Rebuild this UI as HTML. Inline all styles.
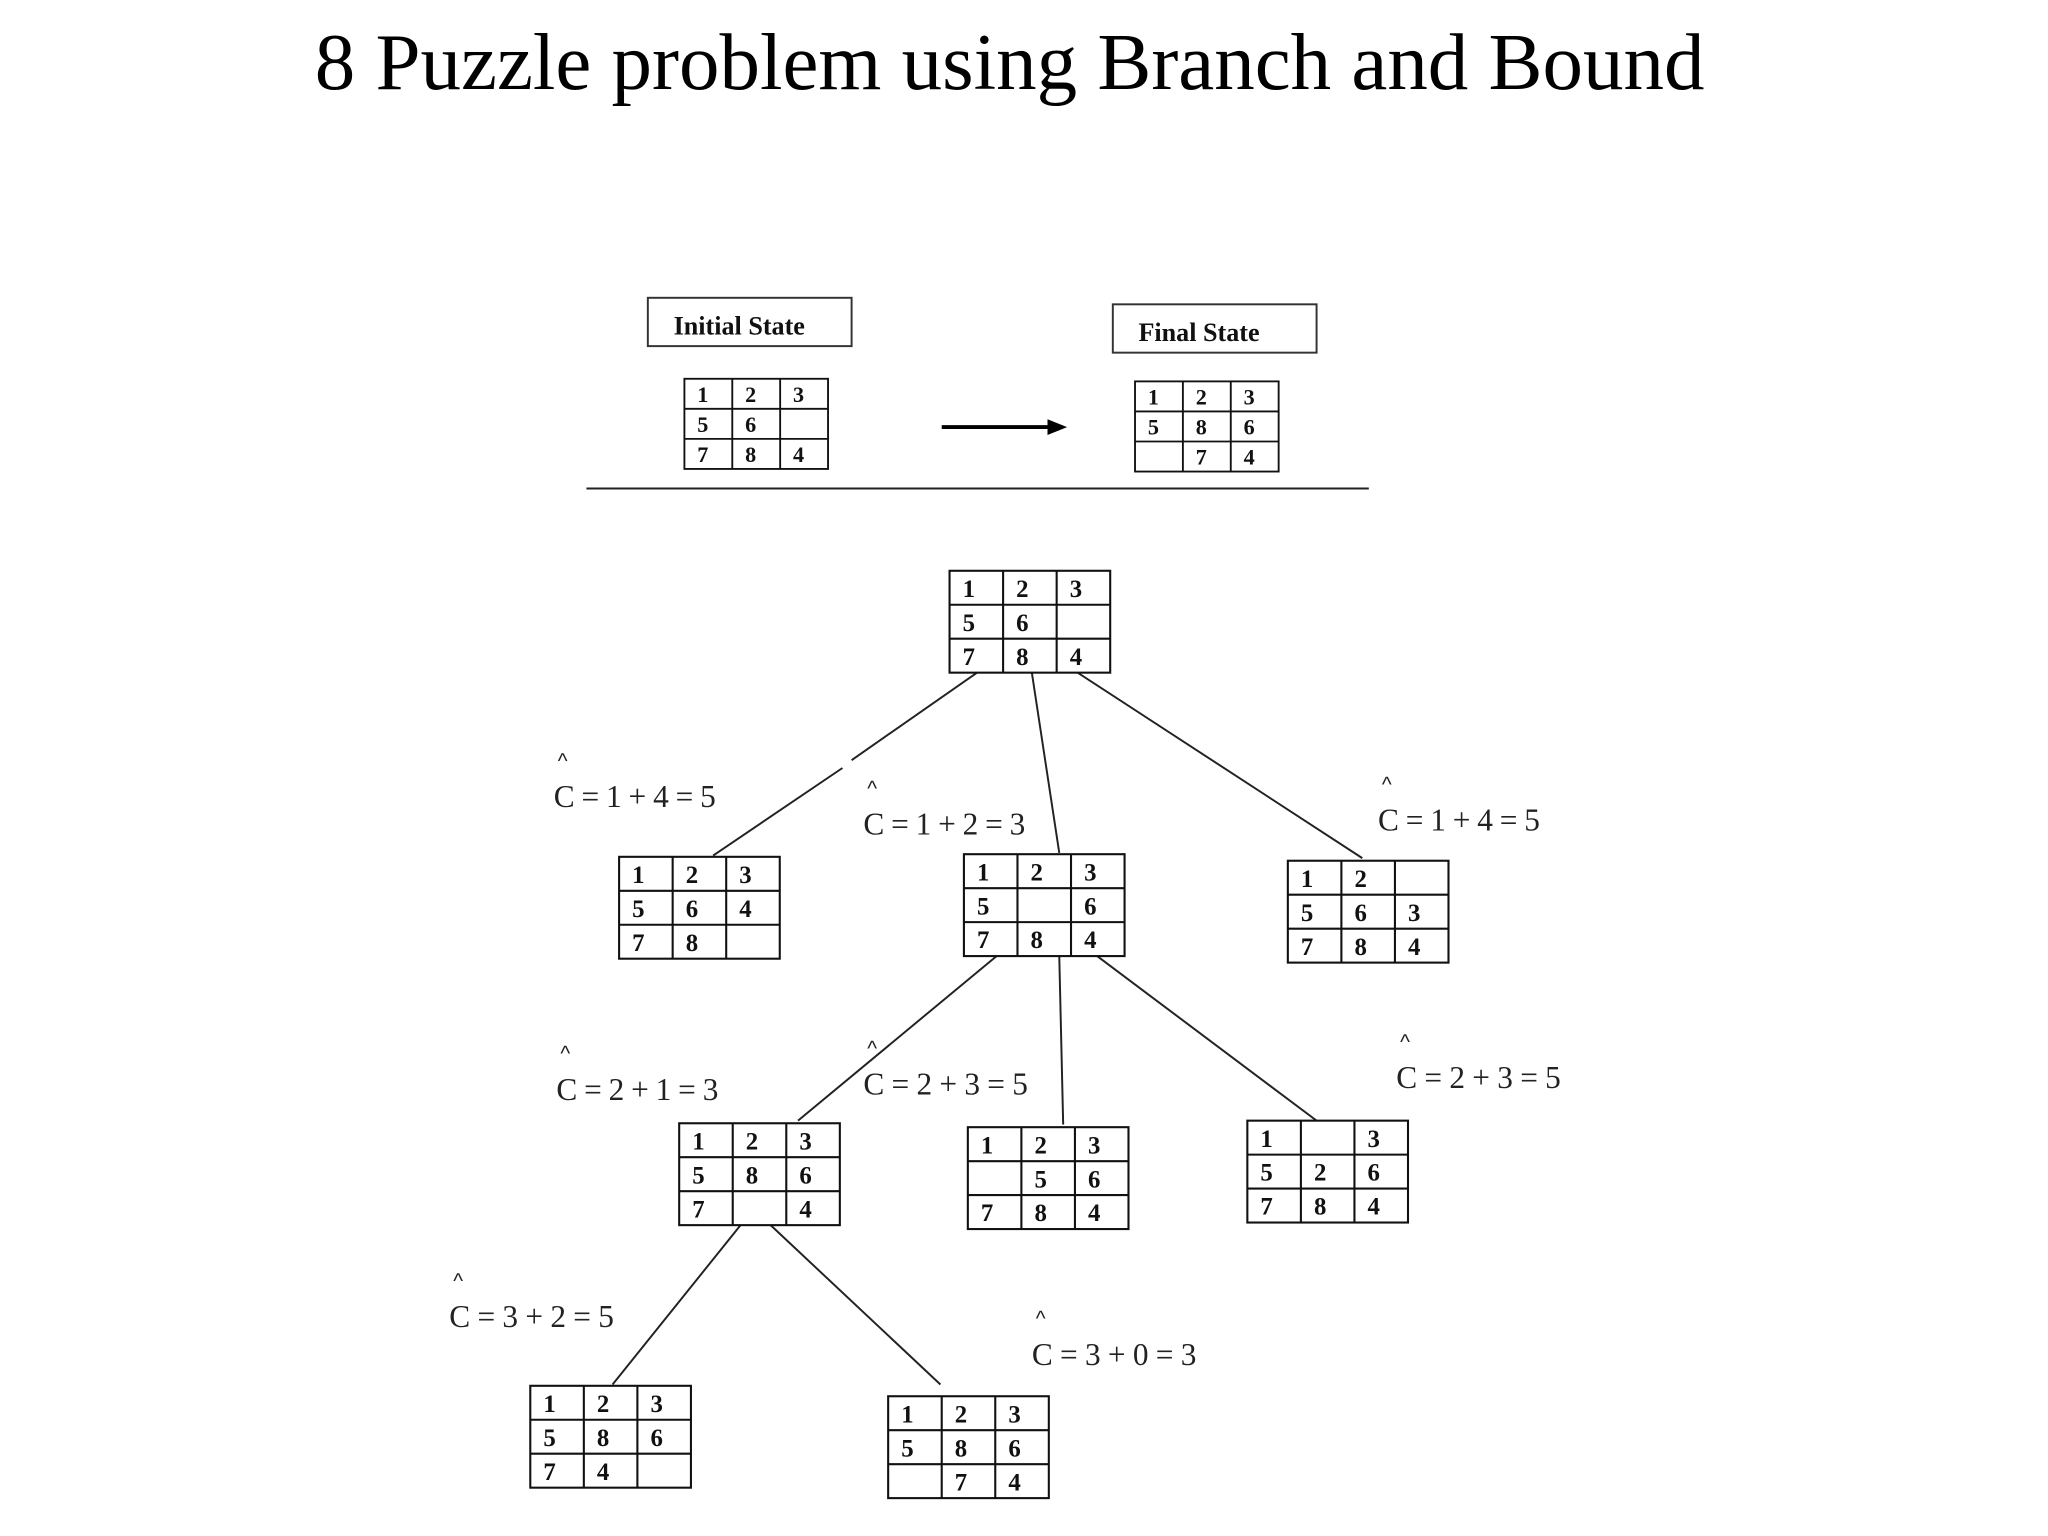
<!DOCTYPE html>
<html><head><meta charset="utf-8"><style>
html,body{margin:0;padding:0;background:#fff;width:2048px;height:1536px;overflow:hidden}
svg{display:block}
.n{font-family:"Liberation Serif",serif;font-weight:bold;font-size:19px;fill:#111}
.c{font-family:"Liberation Serif",serif;font-size:24px;fill:#222}
.h{font-family:"Liberation Sans",sans-serif;font-size:16px;fill:#222}
</style></head><body>
<svg width="2048" height="1536" viewBox="0 0 1568 1176" preserveAspectRatio="none" xmlns="http://www.w3.org/2000/svg">
<defs>
<g id="g"><rect x="0" y="0" width="123" height="78" fill="#fff" stroke="#111" stroke-width="1.6"/>
<line x1="41" y1="0" x2="41" y2="78" stroke="#111" stroke-width="1.6"/>
<line x1="82" y1="0" x2="82" y2="78" stroke="#111" stroke-width="1.6"/>
<line x1="0" y1="26" x2="123" y2="26" stroke="#111" stroke-width="1.6"/>
<line x1="0" y1="52" x2="123" y2="52" stroke="#111" stroke-width="1.6"/></g>
</defs>
<text x="773" y="68" text-anchor="middle" font-family="Liberation Serif,serif" font-size="62" fill="#000">8 Puzzle problem using Branch and Bound</text>

<rect x="496" y="228" width="156" height="37" fill="none" stroke="#333" stroke-width="1.5"/>
<text x="566" y="256" text-anchor="middle" font-family="Liberation Serif,serif" font-weight="bold" font-size="20" fill="#111">Initial State</text>
<rect x="852" y="233" width="156" height="37" fill="none" stroke="#333" stroke-width="1.5"/>
<text x="918" y="261" text-anchor="middle" font-family="Liberation Serif,serif" font-weight="bold" font-size="20" fill="#111">Final State</text>

<g transform="translate(524,290) scale(0.894,0.885)"><use href="#g"/>
<text class="n" x="11" y="20">1</text><text class="n" x="52" y="20">2</text><text class="n" x="93" y="20">3</text>
<text class="n" x="11" y="46">5</text><text class="n" x="52" y="46">6</text>
<text class="n" x="11" y="72">7</text><text class="n" x="52" y="72">8</text><text class="n" x="93" y="72">4</text></g>
<g transform="translate(869,292) scale(0.894,0.885)"><use href="#g"/>
<text class="n" x="11" y="20">1</text><text class="n" x="52" y="20">2</text><text class="n" x="93" y="20">3</text>
<text class="n" x="11" y="46">5</text><text class="n" x="52" y="46">8</text><text class="n" x="93" y="46">6</text>
<text class="n" x="52" y="72">7</text><text class="n" x="93" y="72">4</text></g>

<line x1="721" y1="327" x2="805" y2="327" stroke="#000" stroke-width="3"/>
<polygon points="817,327 802,321 802,333" fill="#000"/>
<line x1="449" y1="374" x2="1048" y2="374" stroke="#222" stroke-width="1.5"/>

<g stroke="#222" stroke-width="1.5">
<line x1="748" y1="515" x2="652" y2="582"/><line x1="645" y1="588" x2="546" y2="655"/>
<line x1="790" y1="515" x2="811" y2="653"/>
<line x1="822" y1="513" x2="1043" y2="657"/>
<line x1="763" y1="732" x2="611" y2="858"/>
<line x1="811" y1="732" x2="814" y2="861"/>
<line x1="840" y1="732" x2="1008" y2="858"/>
<line x1="567" y1="938" x2="469" y2="1060"/>
<line x1="590" y1="938" x2="720" y2="1060"/>
</g>

<g transform="translate(727,437)"><use href="#g"/>
<text class="n" x="10" y="20">1</text><text class="n" x="51" y="20">2</text><text class="n" x="92" y="20">3</text>
<text class="n" x="10" y="46">5</text><text class="n" x="51" y="46">6</text>
<text class="n" x="10" y="72">7</text><text class="n" x="51" y="72">8</text><text class="n" x="92" y="72">4</text></g>
<g transform="translate(474,656)"><use href="#g"/>
<text class="n" x="10" y="20">1</text><text class="n" x="51" y="20">2</text><text class="n" x="92" y="20">3</text>
<text class="n" x="10" y="46">5</text><text class="n" x="51" y="46">6</text><text class="n" x="92" y="46">4</text>
<text class="n" x="10" y="72">7</text><text class="n" x="51" y="72">8</text></g>
<g transform="translate(738,654)"><use href="#g"/>
<text class="n" x="10" y="20">1</text><text class="n" x="51" y="20">2</text><text class="n" x="92" y="20">3</text>
<text class="n" x="10" y="46">5</text><text class="n" x="92" y="46">6</text>
<text class="n" x="10" y="72">7</text><text class="n" x="51" y="72">8</text><text class="n" x="92" y="72">4</text></g>
<g transform="translate(986,659)"><use href="#g"/>
<text class="n" x="10" y="20">1</text><text class="n" x="51" y="20">2</text>
<text class="n" x="10" y="46">5</text><text class="n" x="51" y="46">6</text><text class="n" x="92" y="46">3</text>
<text class="n" x="10" y="72">7</text><text class="n" x="51" y="72">8</text><text class="n" x="92" y="72">4</text></g>
<g transform="translate(520,860)"><use href="#g"/>
<text class="n" x="10" y="20">1</text><text class="n" x="51" y="20">2</text><text class="n" x="92" y="20">3</text>
<text class="n" x="10" y="46">5</text><text class="n" x="51" y="46">8</text><text class="n" x="92" y="46">6</text>
<text class="n" x="10" y="72">7</text><text class="n" x="92" y="72">4</text></g>
<g transform="translate(741,863)"><use href="#g"/>
<text class="n" x="10" y="20">1</text><text class="n" x="51" y="20">2</text><text class="n" x="92" y="20">3</text>
<text class="n" x="51" y="46">5</text><text class="n" x="92" y="46">6</text>
<text class="n" x="10" y="72">7</text><text class="n" x="51" y="72">8</text><text class="n" x="92" y="72">4</text></g>
<g transform="translate(955,858)"><use href="#g"/>
<text class="n" x="10" y="20">1</text><text class="n" x="92" y="20">3</text>
<text class="n" x="10" y="46">5</text><text class="n" x="51" y="46">2</text><text class="n" x="92" y="46">6</text>
<text class="n" x="10" y="72">7</text><text class="n" x="51" y="72">8</text><text class="n" x="92" y="72">4</text></g>
<g transform="translate(406,1061)"><use href="#g"/>
<text class="n" x="10" y="20">1</text><text class="n" x="51" y="20">2</text><text class="n" x="92" y="20">3</text>
<text class="n" x="10" y="46">5</text><text class="n" x="51" y="46">8</text><text class="n" x="92" y="46">6</text>
<text class="n" x="10" y="72">7</text><text class="n" x="51" y="72">4</text></g>
<g transform="translate(680,1069)"><use href="#g"/>
<text class="n" x="10" y="20">1</text><text class="n" x="51" y="20">2</text><text class="n" x="92" y="20">3</text>
<text class="n" x="10" y="46">5</text><text class="n" x="51" y="46">8</text><text class="n" x="92" y="46">6</text>
<text class="n" x="51" y="72">7</text><text class="n" x="92" y="72">4</text></g>

<text class="h" x="427" y="588">^</text><text class="c" x="424" y="618" textLength="124">C=1+4=5</text>
<text class="h" x="664" y="609">^</text><text class="c" x="661" y="639" textLength="124">C=1+2=3</text>
<text class="h" x="1058" y="606">^</text><text class="c" x="1055" y="636" textLength="124">C=1+4=5</text>
<text class="h" x="429" y="812">^</text><text class="c" x="426" y="842" textLength="124">C=2+1=3</text>
<text class="h" x="664" y="808">^</text><text class="c" x="661" y="838" textLength="126">C=2+3=5</text>
<text class="h" x="1072" y="803">^</text><text class="c" x="1069" y="833" textLength="126">C=2+3=5</text>
<text class="h" x="347" y="986">^</text><text class="c" x="344" y="1016" textLength="126">C=3+2=5</text>
<text class="h" x="793" y="1015">^</text><text class="c" x="790" y="1045" textLength="126">C=3+0=3</text>
</svg>
</body></html>
